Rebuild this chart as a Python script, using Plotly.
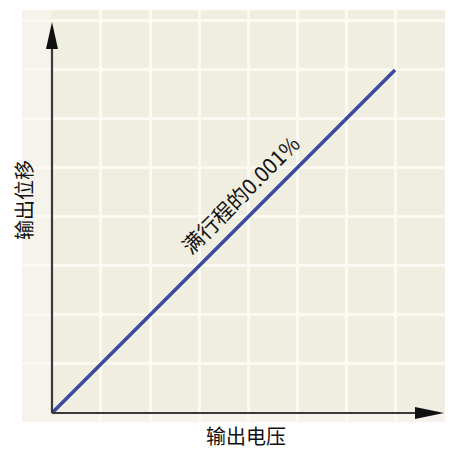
import plotly.graph_objects as go

# data
line_x = [0, 7]
line_y = [0, 7]
grid_x = [1, 2, 3, 4, 5, 6, 7, 8]
grid_y = [1, 2, 3, 4, 5, 6, 7, 8]
label_text = "满行程的0.001%"
x_title = "输出电压"
y_title = "输出位移"

OFF = 8  # browser body margin
W, H = 465 - OFF, 450 - OFF
ML, MR, MT, MB = 22 - OFF, W - (445 - OFF), 10 - OFF, H - (422 - OFF)
PW, PH = W - ML - MR, H - MT - MB
X_RANGE = [-0.612, 8.02]
Y_RANGE = [-0.184, 8.224]
FONT = "Noto Sans CJK SC, Noto Sans, sans-serif"


def px_to_paper(px, py):
    return ((px - OFF) - ML) / PW, (H - MB - (py - OFF)) / PH


fig = go.Figure()
fig.add_trace(go.Scatter(x=line_x, y=line_y, mode="lines",
                         line=dict(color="#3b4a9e", width=3.5),
                         hoverinfo="skip", showlegend=False))

# darker beige inner panel
fig.add_shape(type="rect", xref="x", yref="y", x0=0, y0=0, x1=X_RANGE[1], y1=Y_RANGE[1],
              fillcolor="#f0ede1", line_width=0, layer="below")

# axes lines
axis_col = "#3a3a3a"
fig.add_shape(type="line", xref="x", yref="y", x0=0, y0=0, x1=0, y1=7.6,
              line=dict(color=axis_col, width=2.2))
fig.add_shape(type="line", xref="x", yref="y", x0=0, y0=0, x1=7.6, y1=0,
              line=dict(color=axis_col, width=2.2))
# arrowheads (pixel sized, anchored at axis ends)
fig.add_shape(type="path", xsizemode="pixel", ysizemode="pixel",
              xref="x", yref="y", xanchor=0, yanchor=7.98,
              path="M 0,0 L -6,-27 L 6,-27 Z", fillcolor="#111", line_width=0)
fig.add_shape(type="path", xsizemode="pixel", ysizemode="pixel",
              xref="x", yref="y", xanchor=8.0, yanchor=0,
              path="M 0,0 L -29,-6 L -29,6 Z", fillcolor="#111", line_width=0)

fig.add_annotation(x=3.84, y=4.47, xref="x", yref="y", text=label_text,
                   textangle=-45, showarrow=False,
                   xanchor="center", yanchor="middle",
                   font=dict(family=FONT, size=21, color="#111"))
xt = px_to_paper(246, 435)
fig.add_annotation(x=xt[0], y=xt[1], xref="paper", yref="paper", text=x_title,
                   showarrow=False, xanchor="center", yanchor="middle", borderpad=0,
                   font=dict(family=FONT, size=20, color="#111"))
yt = px_to_paper(23, 200)
fig.add_annotation(x=yt[0], y=yt[1], xref="paper", yref="paper", text=y_title,
                   textangle=-90, showarrow=False, xanchor="center", yanchor="middle",
                   font=dict(family=FONT, size=20, color="#111"))

fig.update_xaxes(range=X_RANGE, tickvals=grid_x, showticklabels=False, ticks="",
                 showgrid=True, gridcolor="#fbf9f2", gridwidth=3, zeroline=False,
                 showline=False, fixedrange=True)
fig.update_yaxes(range=Y_RANGE, tickvals=grid_y, showticklabels=False, ticks="",
                 showgrid=True, gridcolor="#fbf9f2", gridwidth=3, zeroline=False,
                 showline=False, fixedrange=True)

fig.update_layout(width=W, height=H, margin=dict(l=ML, r=MR, t=MT, b=MB),
                  paper_bgcolor="white", plot_bgcolor="#f5f3eb",
                  showlegend=False)

fig.write_html("out.html", config={"displayModeBar": False})
